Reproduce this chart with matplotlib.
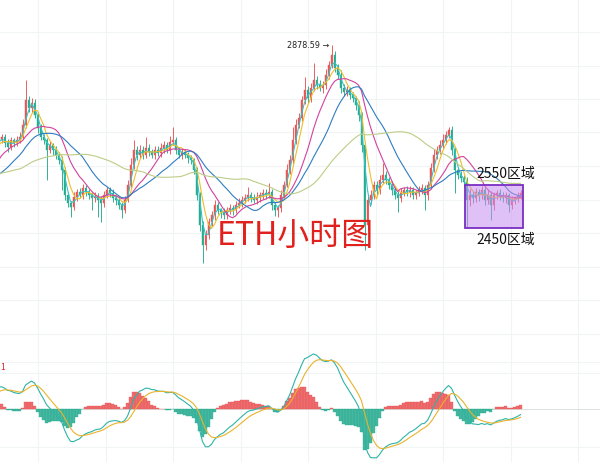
import numpy as np
import pandas as pd
import matplotlib
matplotlib.use("Agg")
import matplotlib.pyplot as plt
from matplotlib.patches import Rectangle

plt.rcParams['font.family'] = ['Noto Sans CJK SC', 'DejaVu Sans']

# ETH/USDT hourly closes that precede the visible window (needed for the moving averages)
warmup_close = [2586, 2590, 2581, 2574, 2586, 2598, 2590, 2581, 2572, 2567,
                2574, 2586, 2581, 2572, 2562, 2567, 2576, 2586, 2581, 2565,
                2551, 2534, 2520, 2509, 2504, 2516, 2525, 2523,
                2539, 2558, 2574, 2586, 2598, 2609, 2621, 2633, 2637, 2644, 2651, 2656]

# Visible hourly closes
close = [2663, 2649, 2640, 2656, 2649, 2656, 2663, 2691, 2750, 2731,
         2743, 2715, 2684, 2663, 2656, 2633, 2644, 2633, 2621, 2609,
         2586, 2527, 2509, 2499, 2523, 2534, 2527, 2544, 2534, 2527,
         2520, 2525, 2516, 2509, 2527, 2539, 2532, 2520, 2516, 2504,
         2492, 2516, 2551, 2598, 2633, 2621, 2633, 2621, 2637, 2628,
         2621, 2633, 2626, 2637, 2644, 2633, 2651, 2656, 2633, 2621,
         2628, 2621, 2614, 2609, 2586, 2527, 2457, 2410, 2434, 2464,
         2480, 2504, 2492, 2487, 2480, 2492, 2497, 2492, 2504, 2509,
         2516, 2520, 2527, 2520, 2516, 2523, 2527, 2532, 2527, 2534,
         2504, 2492, 2497, 2527, 2551, 2586, 2609, 2656, 2691, 2708,
         2750, 2773, 2754, 2778, 2797, 2785, 2778, 2785, 2808, 2832,
         2855, 2825, 2808, 2778, 2768, 2773, 2761, 2754, 2738, 2715,
         2644, 2457, 2516, 2527, 2551, 2539, 2562, 2574, 2562, 2551,
         2539, 2527, 2520, 2532, 2539, 2534, 2539, 2527, 2532, 2539,
         2544, 2527, 2551, 2590, 2621, 2633, 2644, 2656, 2668, 2679,
         2633, 2586, 2574, 2567, 2558, 2516, 2527, 2520, 2534, 2527,
         2539, 2516, 2527, 2504, 2527, 2532, 2525, 2520, 2527, 2504,
         2516, 2520, 2525, 2532]

# Upper / lower shadow lengths of each visible candle (price units)
upper_wick = [8, 6, 10, 7, 5, 9, 12, 15, 47, 10,
              12, 8, 6, 9, 7, 5, 10, 6, 8, 7,
              9, 6, 8, 5, 12, 7, 9, 10, 6, 8,
              7, 9, 6, 8, 10, 7, 6, 9, 8, 5,
              6, 8, 12, 15, 23, 10, 12, 8, 26, 9,
              7, 10, 8, 12, 9, 7, 14, 31, 8, 6,
              9, 7, 8, 6, 5, 6, 8, 10, 12, 9,
              10, 12, 8, 6, 9, 7, 10, 8, 9, 11,
              8, 10, 19, 7, 9, 12, 8, 10, 9, 21,
              7, 6, 8, 12, 10, 14, 12, 30, 15, 12,
              10, 31, 9, 12, 39, 10, 12, 9, 14, 10,
              23.59, 10, 8, 12, 9, 10, 7, 8, 6, 9,
              6, 8, 10, 12, 9, 8, 12, 28, 9, 7,
              8, 6, 9, 12, 8, 10, 9, 7, 8, 10,
              9, 7, 10, 12, 14, 10, 12, 15, 10, 8,
              9, 7, 8, 10, 6, 12, 15, 10, 9, 8,
              10, 8, 12, 9, 7, 8, 10, 9, 8, 6,
              8, 6, 9, 7]
lower_wick = [8, 10, 12, 7, 9, 6, 8, 5, 7, 10,
              9, 8, 12, 7, 10, 71, 8, 12, 10, 9,
              47, 12, 10, 23, 8, 9, 7, 10, 8, 9,
              28, 8, 40, 45, 9, 7, 10, 8, 12, 9,
              18, 8, 6, 5, 9, 12, 8, 10, 7, 9,
              8, 10, 7, 9, 12, 8, 10, 6, 9, 8,
              10, 8, 12, 9, 10, 12, 15, 42, 12, 10,
              9, 12, 10, 14, 8, 9, 10, 12, 8, 7,
              9, 8, 7, 10, 8, 9, 12, 10, 9, 7,
              12, 14, 16, 10, 8, 6, 9, 8, 10, 7,
              8, 10, 12, 9, 7, 10, 8, 12, 9, 8,
              7, 10, 9, 12, 10, 8, 9, 10, 12, 14,
              15, 59, 12, 10, 8, 12, 9, 7, 10, 9,
              12, 10, 33, 9, 8, 10, 12, 9, 10, 8,
              9, 35, 12, 10, 8, 9, 10, 8, 9, 7,
              12, 54, 10, 9, 12, 64, 15, 12, 10, 14,
              9, 12, 10, 35, 12, 9, 10, 8, 12, 17,
              10, 9, 8, 7]

peak_label = "2878.59"
zone_top, zone_bottom = 2550, 2450
zone_labels = ["2550区域", "2450区域"]
title_text = "ETH小时图"

# moving-average periods and colours
ma_periods = [3, 5, 12, 20, 40]
ma_colors = ["#35c2c4", "#f0bd2a", "#d2429f", "#2f7dc2", "#bccd86"]

UP, DOWN = "#ea5455", "#26ab8f"
GRID = "#f1f4f4"

full = pd.Series(warmup_close + close, dtype=float)
n_warm = len(warmup_close)
idx = np.arange(len(full)) - n_warm
opens = full.shift(1).bfill().to_numpy()[n_warm:]
closes = np.array(close, dtype=float)
highs = np.maximum(opens, closes) + np.array(upper_wick)
lows = np.minimum(opens, closes) - np.array(lower_wick)
xs = np.arange(len(close))

fig = plt.figure(figsize=(6.0, 4.62), dpi=100)
ax = fig.add_axes([0, 122 / 462, 1, 340 / 462])
axm = fig.add_axes([0, 0, 1, 122 / 462])

XL = (-0.5, 199.5)
for a in (ax, axm):
    a.set_xlim(*XL)
    a.set_axis_off()
    for xp in np.arange(38, 600, 67.5):
        a.axvline((xp - 1.5) / 3, color=GRID, lw=0.8, zorder=0)

ax.set_ylim(2187.7, 2984)
for yp in np.arange(32, 340, 33.5):
    ax.plot([0, 1], [1 - yp / 340] * 2, transform=ax.transAxes, color=GRID, lw=0.8, zorder=0)

# candles
for x, o, h, l, c in zip(xs, opens, highs, lows, closes):
    col = UP if c >= o else DOWN
    ax.vlines(x, l, h, color=col, lw=0.65, zorder=2)
    ax.add_patch(Rectangle((x - 0.3, min(o, c)), 0.6, max(abs(c - o), 1.2),
                           facecolor=col, edgecolor=col, lw=0.3, zorder=3))

# moving averages
for p, col in zip(ma_periods, ma_colors):
    ma = full.rolling(p, min_periods=1).mean().to_numpy()
    ax.plot(idx, ma, color=col, lw=0.8, zorder=4)

# peak annotation
peak_i = int(np.argmax(highs))
ax.text(peak_i - 0.8, highs[peak_i], peak_label + " \u2192", ha="right", va="center",
        fontsize=5.8, family="DejaVu Sans", color="#222222", zorder=6)

# consolidation zone
zx0 = (465 - 1.5) / 3
zx1 = (523 - 1.5) / 3
ax.add_patch(Rectangle((zx0, zone_bottom), zx1 - zx0, zone_top - zone_bottom,
                       facecolor="#c88ef2", alpha=0.55, edgecolor="none", zorder=5))
ax.add_patch(Rectangle((zx0, zone_bottom), zx1 - zx0, zone_top - zone_bottom,
                       facecolor="none", edgecolor="#7b2ec2", lw=1.3, zorder=6))
ax.text(506 / 600, 1 - 174 / 340, zone_labels[0], transform=ax.transAxes,
        ha="center", va="center", fontsize=10, color="#111111", zorder=7)
ax.text(506 / 600, 1 - 240 / 340, zone_labels[1], transform=ax.transAxes,
        ha="center", va="center", fontsize=10, color="#111111", zorder=7)

ax.text(295 / 600, 1 - 236 / 340, title_text, transform=ax.transAxes,
        ha="center", va="center", fontsize=23, color="#e0211d", zorder=7)

# MACD
ema_fast = full.ewm(span=8, adjust=False).mean()
ema_slow = full.ewm(span=17, adjust=False).mean()
dif = (ema_fast - ema_slow).to_numpy()
dea = pd.Series(dif).ewm(span=6, adjust=False).mean().to_numpy()
hist = 1.4 * (dif - dea)

vis = idx >= 0
R = -dif[vis].min() / 0.40
axm.set_ylim(-0.434 * R, 0.566 * R)
for yp in (362, 373, 447):
    axm.plot([0, 1], [(462 - yp) / 122] * 2, transform=axm.transAxes, color=GRID, lw=0.8, zorder=0)
axm.axhline(0, color="#d5dbdb", lw=0.6, zorder=1)
hcol = np.where(hist[vis] >= 0, UP, DOWN)
axm.bar(idx[vis], hist[vis], width=0.7, color=hcol, edgecolor=hcol, lw=0.3, alpha=0.85, zorder=2)
axm.plot(idx, dif, color="#2fb3a8", lw=0.8, zorder=3)
axm.plot(idx, dea, color="#e9b32c", lw=0.8, zorder=3)
axm.text(0.0, (462 - 367) / 122, "1", transform=axm.transAxes, ha="left", va="center",
         fontsize=6, color="#d02020")

fig.savefig("out.png", dpi=100, facecolor="white")
